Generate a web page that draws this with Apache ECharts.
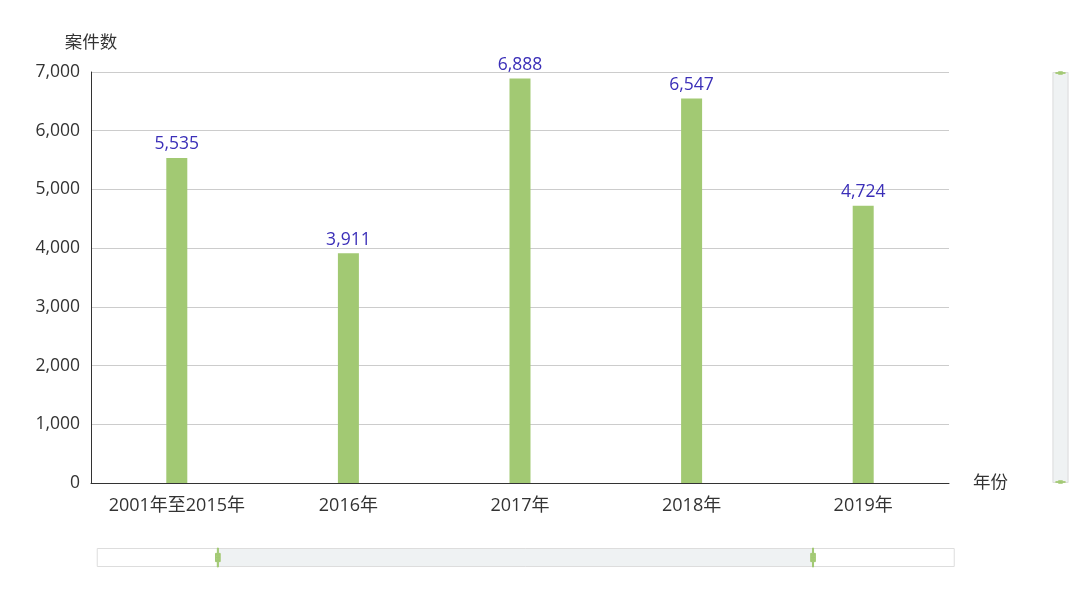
<!DOCTYPE html>
<html>
<head>
<meta charset="utf-8">
<script src="https://cdn.jsdelivr.net/npm/echarts@6/dist/echarts.min.js"></script>
<style>
html,body{margin:0;padding:0;background:#fff;}
#main{width:1080px;height:603px;}
</style>
</head>
<body>
<div id="main"></div>
<script>
var categories = ['2001年至2015年', '2016年', '2017年', '2018年', '2019年'];
var caseCounts = [5535, 3911, 6888, 6547, 4724];
var yTicks = [0, 1000, 2000, 3000, 4000, 5000, 6000, 7000];

var FONT = '"Open Sans", "Noto Sans CJK SC", sans-serif';
var handlePath = 'path://M8.2,13.6V3.9H6.3v9.7H3.1v14.9h3.3v9.7h1.8v-9.7h3.3V13.6H8.2z M9.7,24.4H4.8v-1.4h4.9V24.4z M9.7,19.1H4.8v-1.4h4.9V19.1z';

var chart = echarts.init(document.getElementById('main'), null, {renderer: 'canvas'});
chart.setOption({
  animation: false,
  textStyle: {fontFamily: FONT},
  grid: {left: 91, right: 131, top: 72, bottom: 120, containLabel: false},
  xAxis: [{
    type: 'category',
    data: categories,
    name: '年份',
    nameGap: 24,
    nameTextStyle: {color: '#333', fontSize: 17.5, fontFamily: FONT},
    axisLine: {lineStyle: {color: '#333', width: 1}},
    axisTick: {show: false},
    axisLabel: {color: '#333', fontSize: 18, margin: 14, interval: 0, hideOverlap: false, fontFamily: FONT}
  }, {
    type: 'value', show: false, min: 0, max: 100
  }],
  yAxis: [{
    type: 'value',
    min: yTicks[0],
    max: yTicks[yTicks.length - 1],
    interval: yTicks[1] - yTicks[0],
    name: '案件数',
    nameGap: 20,
    nameTextStyle: {color: '#333', fontSize: 17.5, fontFamily: FONT},
    axisLine: {show: true, lineStyle: {color: '#333', width: 1}},
    axisTick: {show: false},
    axisLabel: {
      color: '#333', fontSize: 17.5, margin: 11, fontFamily: FONT,
      formatter: function (v) { return v.toLocaleString('en-US'); }
    },
    splitLine: {lineStyle: {color: '#ccc'}}
  }],
  dataZoom: [{
    type: 'slider',
    xAxisIndex: 1,
    start: 14,
    end: 83.6,
    left: 96,
    right: 126,
    bottom: 36,
    height: 19,
    showDetail: false,
    showDataShadow: false,
    brushSelect: false,
    moveHandleSize: 0,
    borderColor: '#ddd',
    backgroundColor: 'rgba(0,0,0,0)',
    fillerColor: 'rgba(234,237,239,0.75)',
    handleIcon: handlePath,
    handleSize: '100%',
    handleStyle: {color: '#a2c973', borderColor: '#a2c973'}
  }, {
    type: 'slider',
    yAxisIndex: 0,
    orient: 'vertical',
    start: 0,
    end: 100,
    right: 12,
    top: 72,
    bottom: 120,
    width: 16,
    showDetail: false,
    showDataShadow: false,
    brushSelect: false,
    moveHandleSize: 0,
    borderColor: '#ddd',
    backgroundColor: 'rgba(0,0,0,0)',
    fillerColor: 'rgba(234,237,239,0.75)',
    handleIcon: handlePath,
    handleSize: '60%',
    handleStyle: {color: '#a2c973', borderColor: '#a2c973'}
  }],
  series: [{
    type: 'bar',
    data: caseCounts,
    barWidth: 21,
    itemStyle: {color: '#a2c973'},
    label: {
      show: true,
      position: 'top',
      distance: 5,
      color: '#3b2fb8',
      fontSize: 17.5,
      fontFamily: FONT,
      formatter: function (p) { return p.value.toLocaleString('en-US'); }
    }
  }]
});
</script>
</body>
</html>
